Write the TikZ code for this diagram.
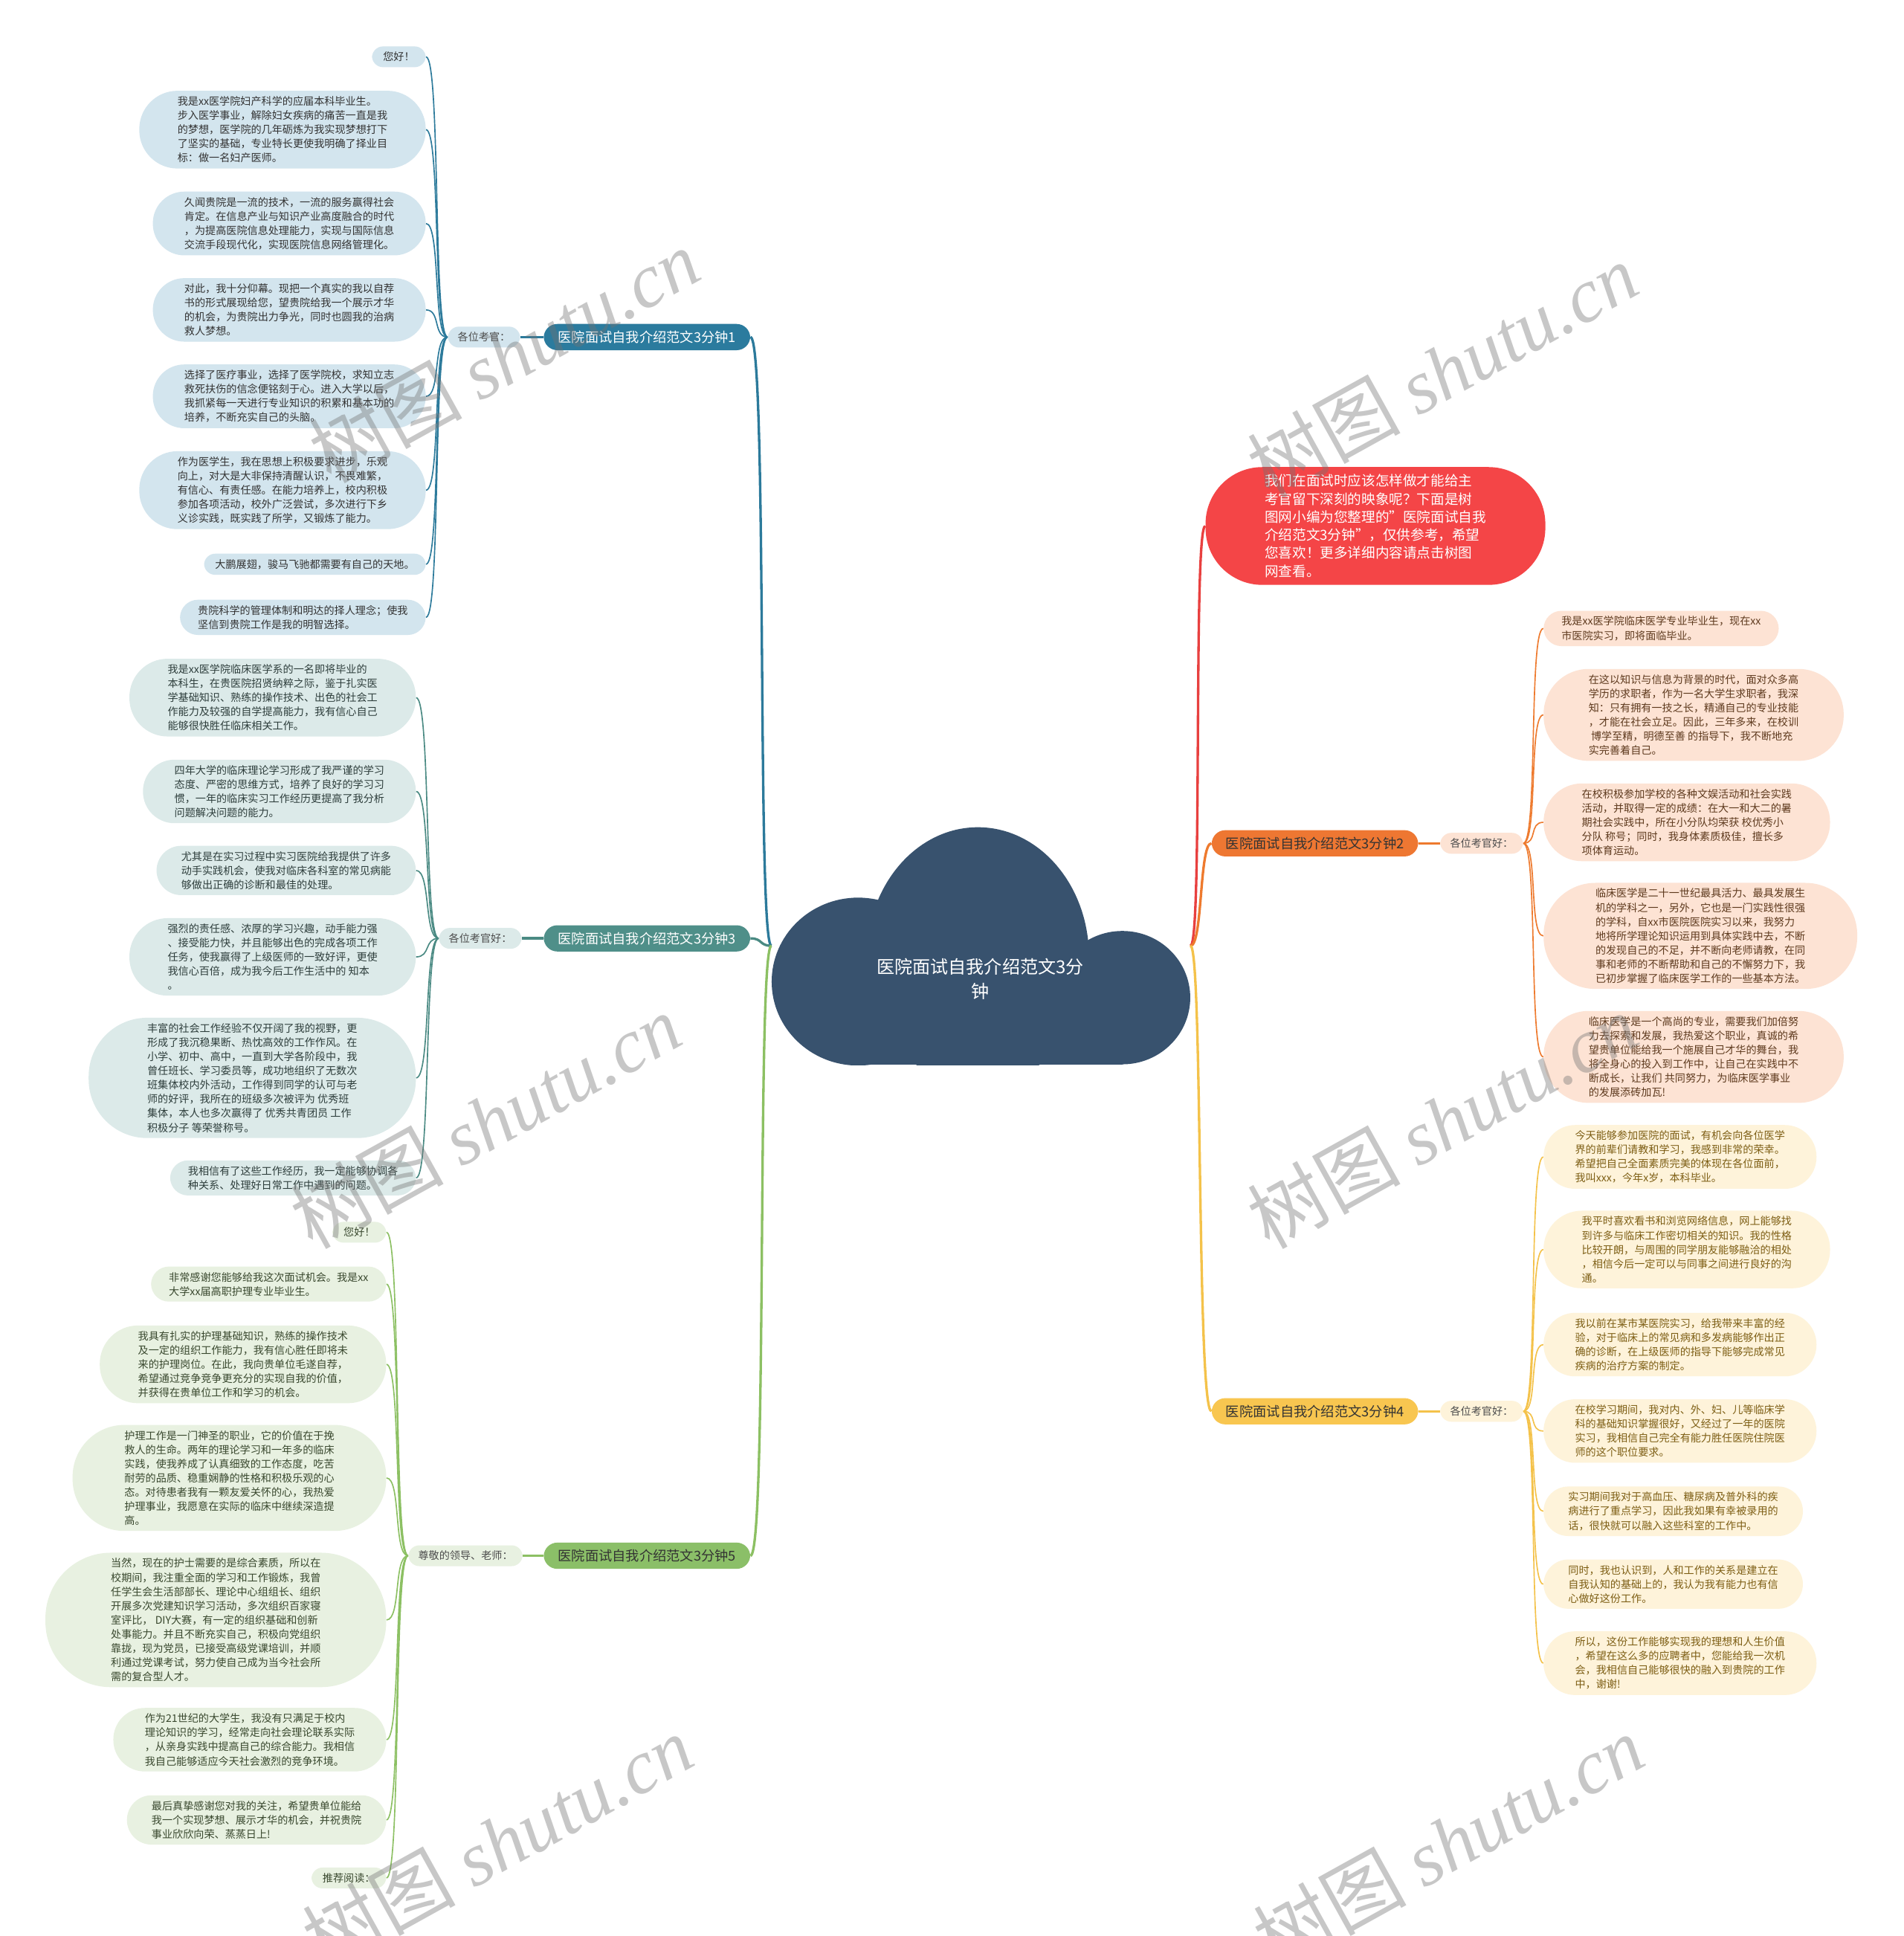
\documentclass[tikz,border=0pt]{standalone}
\usepackage{fontspec}
\setmainfont{Noto Sans CJK SC}
\newfontfamily\wmfont{Liberation Serif}
\usetikzlibrary{backgrounds}
\definecolor{cRoot}{HTML}{38526E}
\definecolor{cB1f}{HTML}{2B7B9E}\definecolor{cB1l}{HTML}{D3E5EE}\definecolor{cB1c}{HTML}{2C7A9B}\definecolor{cB1t}{HTML}{333333}
\definecolor{cB3f}{HTML}{4F8F89}\definecolor{cB3l}{HTML}{DCEAE9}\definecolor{cB3c}{HTML}{4A8A83}\definecolor{cB3t}{HTML}{2E3E3C}
\definecolor{cB5f}{HTML}{8BBF68}\definecolor{cB5l}{HTML}{E8F1E1}\definecolor{cB5c}{HTML}{8CC063}\definecolor{cB5t}{HTML}{39482E}
\definecolor{cB2f}{HTML}{EE7732}\definecolor{cB2l}{HTML}{FDE3D4}\definecolor{cB2c}{HTML}{EE7A2E}\definecolor{cB2t}{HTML}{5E3A1E}
\definecolor{cB4f}{HTML}{F8C650}\definecolor{cB4l}{HTML}{FEF3DA}\definecolor{cB4c}{HTML}{F4C24A}\definecolor{cB4t}{HTML}{7D5E14}
\definecolor{cRed}{HTML}{F44547}\definecolor{cRedc}{HTML}{E8403F}
\begin{document}
\begin{tikzpicture}[x=1pt,y=-1pt,
  leaf/.style={font=\fontsize{8.5}{11.5}\selectfont, align=left, inner ysep=4.5pt},
  r1/.style={inner xsep=9pt, rounded corners=9pt},
  r2/.style={inner xsep=14.5pt, rounded corners=14.5pt},
  r3/.style={inner xsep=20pt, rounded corners=20pt},
  r4/.style={inner xsep=25.5pt, rounded corners=25.5pt},
  r5/.style={inner xsep=31pt, rounded corners=31pt},
  r6/.style={inner xsep=36.5pt, rounded corners=36.5pt},
  r7/.style={inner xsep=42pt, rounded corners=42pt},
  r8/.style={inner xsep=47.5pt, rounded corners=47.5pt},
  r9/.style={inner xsep=53pt, rounded corners=53pt},
  lfA/.style={leaf, fill=cB1l, text=cB1t, anchor=east},
  lfC/.style={leaf, fill=cB3l, text=cB3t, anchor=east},
  lfE/.style={leaf, fill=cB5l, text=cB5t, anchor=east},
  lfD/.style={leaf, fill=cB2l, text=cB2t, anchor=west},
  lfG/.style={leaf, fill=cB4l, text=cB4t, anchor=west},
  br/.style={font=\fontsize{11}{13}\selectfont, inner xsep=11.5pt, inner ysep=5.5pt, rounded corners=11pt},
  lab/.style={font=\fontsize{8.5}{11}\selectfont, text=black!70, inner xsep=8pt, inner ysep=4.5pt, rounded corners=9pt},
  mainc/.style={line width=2pt},
  leafc/.style={line width=1pt},
  wm/.style={font=\fontsize{62}{62}\selectfont, text=black!55, opacity=0.4, rotate=29}
]
\useasboundingbox (0,0) rectangle (1542,1568);

% central cloud
\begin{scope}
\clip (600,640) rectangle (1000,862.5);
\fill[cRoot] (792,775) ellipse [x radius=90,y radius=105];
\fill[cRoot] (695,795) ellipse [x radius=70,y radius=68];
\fill[cRoot] (909,808) ellipse [x radius=55,y radius=54];
\fill[cRoot] (695,790) rectangle (909,862.5);
\end{scope}
\node[inner sep=0pt, minimum width=339pt, minimum height=192pt] (rootbox) at (794.5,766) {};
\node[font=\fontsize{14.5}{20}\selectfont, text=white, align=center] (root) at (794,793) {医院面试自我介绍范文3分\\钟};

% branches
\node[br, fill=cB1f, text=white] (b1) at (524,273) {医院面试自我介绍范文3分钟1};
\node[br, fill=cB3f, text=white] (b3) at (524,760) {医院面试自我介绍范文3分钟3};
\node[br, fill=cB5f, text=black!80] (b5) at (524,1260) {医院面试自我介绍范文3分钟5};
\node[br, fill=cB2f, text=black!80] (b2) at (1065,683) {医院面试自我介绍范文3分钟2};
\node[br, fill=cB4f, text=black!80] (b4) at (1065,1143) {医院面试自我介绍范文3分钟4};
\node[font=\fontsize{11.2}{14.6}\selectfont, text=white, align=left, fill=cRed, inner xsep=48pt, inner ysep=6pt, rounded corners=46pt] (red) at (1114,426) {我们在面试时应该怎样做才能给主\\考官留下深刻的映象呢？下面是树\\图网小编为您整理的\symbol{34}医院面试自我\\介绍范文3分钟\symbol{34}，仅供参考，希望\\您喜欢！更多详细内容请点击树图\\网查看。};

% labels
\node[lab, fill=cB1l] (l1) at (392,273) {各位考官：};
\node[lab, fill=cB3l] (l3) at (389,760) {各位考官好：};
\node[lab, fill=cB5l] (l5) at (377,1260) {尊敬的领导、老师：};
\node[lab, fill=cB2l] (l2) at (1200,683) {各位考官好：};
\node[lab, fill=cB4l] (l4) at (1200,1143) {各位考官好：};

% branch 1 leaves
\node[lfA, r1] (a1) at (345,46) {您好！};
\node[lfA, r5] (a2) at (345,105) {我是xx医学院妇产科学的应届本科毕业生。\\步入医学事业，解除妇女疾病的痛苦一直是我\\的梦想，医学院的几年砺炼为我实现梦想打下\\了坚实的基础，专业特长更使我明确了择业目\\标：做一名妇产医师。};
\node[lfA, r4] (a3) at (345,181) {久闻贵院是一流的技术，一流的服务赢得社会\\肯定。在信息产业与知识产业高度融合的时代\\，为提高医院信息处理能力，实现与国际信息\\交流手段现代化，实现医院信息网络管理化。};
\node[lfA, r4] (a4) at (345,251) {对此，我十分仰幕。现把一个真实的我以自荐\\书的形式展现给您，望贵院给我一个展示才华\\的机会，为贵院出力争光，同时也圆我的治病\\救人梦想。};
\node[lfA, r4] (a5) at (345,321) {选择了医疗事业，选择了医学院校，求知立志\\救死扶伤的信念便铭刻于心。进入大学以后，\\我抓紧每一天进行专业知识的积累和基本功的\\培养，不断充实自己的头脑。};
\node[lfA, r5] (a6) at (345,397) {作为医学生，我在思想上积极要求进步，乐观\\向上，对大是大非保持清醒认识，不畏难繁，\\有信心、有责任感。在能力培养上，校内积极\\参加各项活动，校外广泛尝试，多次进行下乡\\义诊实践，既实践了所学，又锻炼了能力。};
\node[lfA, r1] (a7) at (345,457) {大鹏展翅，骏马飞驰都需要有自己的天地。};
\node[lfA, r2] (a8) at (345,500) {贵院科学的管理体制和明达的择人理念；使我\\坚信到贵院工作是我的明智选择。};

% branch 3 leaves
\node[lfC, r5] (c1) at (337,565) {我是xx医学院临床医学系的一名即将毕业的\\本科生，在贵医院招贤纳粹之际，鉴于扎实医\\学基础知识、熟练的操作技术、出色的社会工\\作能力及较强的自学提高能力，我有信心自己\\能够很快胜任临床相关工作。};
\node[lfC, r4] (c2) at (337,641) {四年大学的临床理论学习形成了我严谨的学习\\态度、严密的思维方式，培养了良好的学习习\\惯，一年的临床实习工作经历更提高了我分析\\问题解决问题的能力。};
\node[lfC, r3] (c3) at (337,705) {尤其是在实习过程中实习医院给我提供了许多\\动手实践机会，使我对临床各科室的常见病能\\够做出正确的诊断和最佳的处理。};
\node[lfC, r5] (c4) at (337,775) {强烈的责任感、浓厚的学习兴趣，动手能力强\\、接受能力快，并且能够出色的完成各项工作\\任务，使我赢得了上级医师的一致好评，更使\\我信心百倍，成为我今后工作生活中的 知本\\。};
\node[lfC, r8] (c5) at (337,873) {丰富的社会工作经验不仅开阔了我的视野，更\\形成了我沉稳果断、热忱高效的工作作风。在\\小学、初中、高中，一直到大学各阶段中，我\\曾任班长、学习委员等，成功地组织了无数次\\班集体校内外活动，工作得到同学的认可与老\\师的好评，我所在的班级多次被评为 优秀班\\集体，本人也多次赢得了 优秀共青团员 工作\\积极分子 等荣誉称号。};
\node[lfC, r2] (c6) at (337,954) {我相信有了这些工作经历，我一定能够协调各\\种关系、处理好日常工作中遇到的问题。};

% branch 5 leaves
\node[lfE, r1] (e1) at (313,998) {您好！};
\node[lfE, r2] (e2) at (313,1040) {非常感谢您能够给我这次面试机会。我是xx\\大学xx届高职护理专业毕业生。};
\node[lfE, r5] (e3) at (313,1105) {我具有扎实的护理基础知识，熟练的操作技术\\及一定的组织工作能力，我有信心胜任即将未\\来的护理岗位。在此，我向贵单位毛遂自荐，\\希望通过竞争竞争更充分的实现自我的价值，\\并获得在贵单位工作和学习的机会。};
\node[lfE, r7] (e4) at (313,1197) {护理工作是一门神圣的职业，它的价值在于挽\\救人的生命。两年的理论学习和一年多的临床\\实践，使我养成了认真细致的工作态度，吃苦\\耐劳的品质、稳重娴静的性格和积极乐观的心\\态。对待患者我有一颗友爱关怀的心，我热爱\\护理事业，我愿意在实际的临床中继续深造提\\高。};
\node[lfE, r9] (e5) at (313,1312) {当然，现在的护士需要的是综合素质，所以在\\校期间，我注重全面的学习和工作锻炼，我曾\\任学生会生活部部长、理论中心组组长、组织\\开展多次党建知识学习活动，多次组织百家寝\\室评比， DIY大赛，有一定的组织基础和创新\\处事能力。并且不断充实自己，积极向党组织\\靠拢，现为党员，已接受高级党课培训，并顺\\利通过党课考试，努力使自己成为当今社会所\\需的复合型人才。};
\node[lfE, r4] (e6) at (313,1409) {作为21世纪的大学生，我没有只满足于校内\\理论知识的学习，经常走向社会理论联系实际\\，从亲身实践中提高自己的综合能力。我相信\\我自己能够适应今天社会激烈的竞争环境。};
\node[lfE, r3] (e7) at (313,1474) {最后真挚感谢您对我的关注，希望贵单位能给\\我一个实现梦想、展示才华的机会，并祝贵院\\事业欣欣向荣、蒸蒸日上!};
\node[lfE, r1] (e8) at (313,1521) {推荐阅读：};

% branch 2 leaves
\node[lfD, r2] (d1) at (1250,509) {我是xx医学院临床医学专业毕业生，现在xx\\市医院实习，即将面临毕业。};
\node[lfD, r6] (d2) at (1250,579) {在这以知识与信息为背景的时代，面对众多高\\学历的求职者，作为一名大学生求职者，我深\\知：只有拥有一技之长，精通自己的专业技能\\，才能在社会立足。因此，三年多来，在校训\\\ 博学至精，明德至善 的指导下，我不断地充\\实完善着自己。};
\node[lfD, r5] (d3) at (1250,666) {在校积极参加学校的各种文娱活动和社会实践\\活动，并取得一定的成绩：在大一和大二的暑\\期社会实践中，所在小分队均荣获 校优秀小\\分队 称号；同时，我身体素质极佳，擅长多\\项体育运动。};
\node[lfD, r7] (d4) at (1250,758) {临床医学是二十一世纪最具活力、最具发展生\\机的学科之一，另外，它也是一门实践性很强\\的学科，自xx市医院医院实习以来，我努力\\地将所学理论知识运用到具体实践中去，不断\\的发现自己的不足，并不断向老师请教，在同\\事和老师的不断帮助和自己的不懈努力下，我\\已初步掌握了临床医学工作的一些基本方法。};
\node[lfD, r6] (d5) at (1250,856) {临床医学是一个高尚的专业，需要我们加倍努\\力去探索和发展，我热爱这个职业，真诚的希\\望贵单位能给我一个施展自己才华的舞台，我\\将全身心的投入到工作中，让自己在实践中不\\断成长，让我们 共同努力，为临床医学事业\\的发展添砖加瓦!};

% branch 4 leaves
\node[lfG, r4] (g1) at (1250,937) {今天能够参加医院的面试，有机会向各位医学\\界的前辈们请教和学习，我感到非常的荣幸。\\希望把自己全面素质完美的体现在各位面前，\\我叫xxx，今年x岁，本科毕业。};
\node[lfG, r5] (g2) at (1250,1012) {我平时喜欢看书和浏览网络信息，网上能够找\\到许多与临床工作密切相关的知识。我的性格\\比较开朗，与周围的同学朋友能够融洽的相处\\，相信今后一定可以与同事之间进行良好的沟\\通。};
\node[lfG, r4] (g3) at (1250,1089) {我以前在某市某医院实习，给我带来丰富的经\\验，对于临床上的常见病和多发病能够作出正\\确的诊断，在上级医师的指导下能够完成常见\\疾病的治疗方案的制定。};
\node[lfG, r4] (g4) at (1250,1159) {在校学习期间，我对内、外、妇、儿等临床学\\科的基础知识掌握很好，又经过了一年的医院\\实习，我相信自己完全有能力胜任医院住院医\\师的这个职位要求。};
\node[lfG, r3] (g5) at (1250,1224) {实习期间我对于高血压、糖尿病及普外科的疾\\病进行了重点学习，因此我如果有幸被录用的\\话，很快就可以融入这些科室的工作中。};
\node[lfG, r3] (g6) at (1250,1283) {同时，我也认识到，人和工作的关系是建立在\\自我认知的基础上的，我认为我有能力也有信\\心做好这份工作。};
\node[lfG, r4] (g7) at (1250,1347) {所以，这份工作能够实现我的理想和人生价值\\，希望在这么多的应聘者中，您能给我一次机\\会，我相信自己能够很快的融入到贵院的工作\\中，谢谢!};

% connectors
\begin{scope}[on background layer]
\fill[white] (0,0) rectangle (1542,1568);
\draw[mainc, cB1c] (rootbox.west) .. controls +(-12,0) and +(14,0) .. (b1.east);
\draw[mainc, cB3c] (rootbox.west) .. controls +(-10,0) and +(10,0) .. (b3.east);
\draw[mainc, cB5c] (rootbox.west) .. controls +(-12,0) and +(14,0) .. (b5.east);
\draw[mainc, cRedc] (rootbox.east) .. controls +(10,0) and +(-10,0) .. (red.west);
\draw[mainc, cB2c] (rootbox.east) .. controls +(10,0) and +(-10,0) .. (b2.west);
\draw[mainc, cB4c] (rootbox.east) .. controls +(10,0) and +(-12,0) .. (b4.west);
\draw[mainc, cB1c] (b1.west) -- (l1.east);
\draw[mainc, cB3c] (b3.west) -- (l3.east);
\draw[mainc, cB5c] (b5.west) -- (l5.east);
\draw[mainc, cB2c] (b2.east) -- (l2.west);
\draw[mainc, cB4c] (b4.east) -- (l4.west);
\foreach \n in {a1,a2,a3,a4,a5,a6,a7,a8}
  \draw[leafc, cB1c] (l1.west) .. controls +(-12,0) and +(12,0) .. (\n.east);
\foreach \n in {c1,c2,c3,c4,c5,c6}
  \draw[leafc, cB3c] (l3.west) .. controls +(-12,0) and +(12,0) .. (\n.east);
\foreach \n in {e1,e2,e3,e4,e5,e6,e7,e8}
  \draw[leafc, cB5c] (l5.west) .. controls +(-12,0) and +(12,0) .. (\n.east);
\foreach \n in {d1,d2,d3,d4,d5}
  \draw[leafc, cB2c] (l2.east) .. controls +(12,0) and +(-12,0) .. (\n.west);
\foreach \n in {g1,g2,g3,g4,g5,g6,g7}
  \draw[leafc, cB4c] (l4.east) .. controls +(12,0) and +(-12,0) .. (\n.west);
\end{scope}

% watermarks
\node[wm] (wm1) at (408,288) {树图 {\wmfont\itshape shutu.cn}};
\node[wm] (wm2) at (1168,300) {树图 {\wmfont\itshape shutu.cn}};
\node[wm] (wm3) at (393,908) {树图 {\wmfont\itshape shutu.cn}};
\node[wm] (wm4) at (1168,908) {树图 {\wmfont\itshape shutu.cn}};
\node[wm] (wm5) at (403,1492) {树图 {\wmfont\itshape shutu.cn}};
\node[wm] (wm6) at (1173,1492) {树图 {\wmfont\itshape shutu.cn}};
\end{tikzpicture}
\end{document}
